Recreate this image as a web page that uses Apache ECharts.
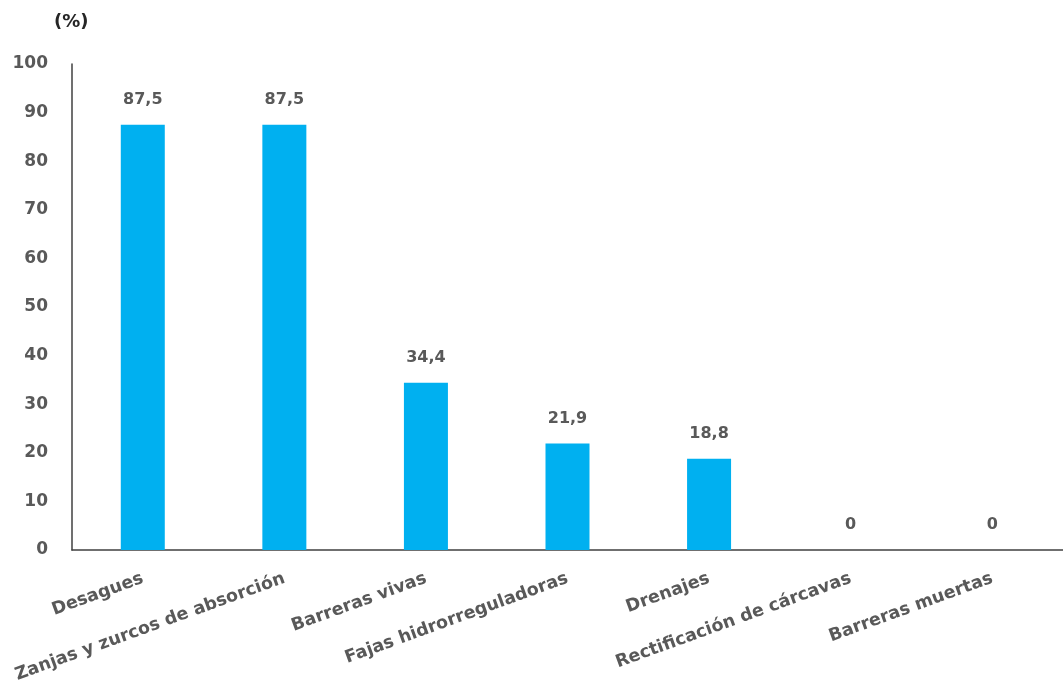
<!DOCTYPE html>
<html><head><meta charset="utf-8">
<script src="https://cdn.jsdelivr.net/npm/echarts@6/dist/echarts.min.js"></script>
<style>html,body{margin:0;padding:0;background:#fff}#c{width:1063px;height:686px}</style>
</head><body><div id="c"></div>
<script>
const categories = ["Desagues","Zanjas y zurcos de absorción","Barreras vivas","Fajas hidrorreguladoras","Drenajes","Rectificación de cárcavas","Barreras muertas"];
const values = [87.5, 87.5, 34.4, 21.9, 18.8, 0, 0];
const yTicks = {min: 0, max: 100, interval: 10};
const unitLabel = "(%)";

const chart = echarts.init(document.getElementById('c'));
const font = "'DejaVu Sans', sans-serif";
chart.setOption({
  animation: false,
  graphic: [{type:'text', left: 54, top: 13, style:{text: unitLabel, font: "bold 18px " + font, fill:'#262626'}}],
  grid: {left: 72, right: -8, top: 64, bottom: 136, containLabel: false},
  xAxis: {
    type: 'category', data: categories,
    axisLine: {lineStyle: {color: '#404040', width: 1.5}},
    axisTick: {show: false},
    axisLabel: {rotate: 20, color: '#595959', fontSize: 17.5, fontWeight: 'bold', fontFamily: font, margin: 28, interval: 0}
  },
  yAxis: {
    type: 'value', min: yTicks.min, max: yTicks.max, interval: yTicks.interval,
    axisLine: {show: true, lineStyle: {color: '#404040', width: 1.5}},
    axisTick: {show: false},
    splitLine: {show: false},
    axisLabel: {color: '#595959', fontSize: 17, fontWeight: 'bold', fontFamily: font, margin: 24}
  },
  series: [{
    type: 'bar', data: values, barWidth: 44,
    itemStyle: {color: '#00B0F0'},
    label: {show: true, position: 'top', distance: 17, color: '#595959', fontSize: 16, fontWeight: 'bold', fontFamily: font,
      formatter: p => String(p.value).replace('.', ',')}
  }]
});
</script></body></html>
